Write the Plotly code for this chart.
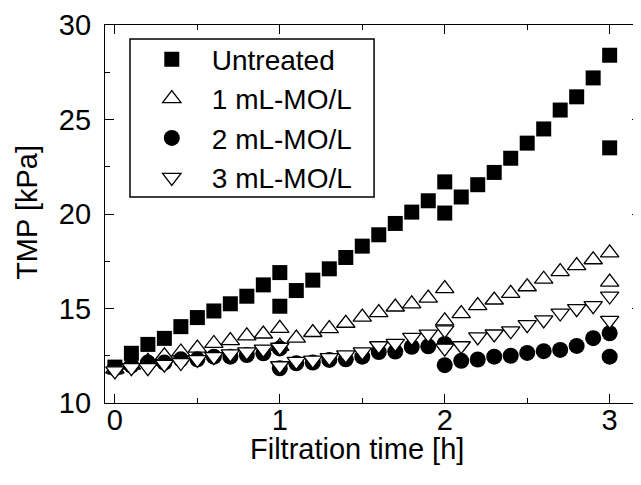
import plotly.graph_objects as go

# filtration time [h]: three 1 h runs, each run restarts at the same time point
time_h = [0.0, 0.1, 0.2, 0.3, 0.4, 0.5, 0.6, 0.7, 0.8, 0.9, 1.0,
          1.0, 1.1, 1.2, 1.3, 1.4, 1.5, 1.6, 1.7, 1.8, 1.9, 2.0,
          2.0, 2.1, 2.2, 2.3, 2.4, 2.5, 2.6, 2.7, 2.8, 2.9, 3.0,
          3.0]

# TMP [kPa]
untreated = [11.9, 12.63, 13.1, 13.42, 14.04, 14.52, 14.87, 15.25, 15.65, 16.25, 16.9,
             15.12, 15.95, 16.5, 17.1, 17.7, 18.3, 18.9, 19.5, 20.1, 20.7, 21.7,
             20.05, 20.9, 21.55, 22.2, 22.95, 23.75, 24.5, 25.5, 26.2, 27.2, 28.4,
             23.5]
mo_1 = [11.8, 12.0, 12.2, 12.5, 12.7, 12.9, 13.15, 13.3, 13.55, 13.65, 13.95,
        13.0, 13.43, 13.73, 13.94, 14.22, 14.54, 14.78, 15.08, 15.25, 15.55, 16.05,
        14.35, 14.73, 15.15, 15.45, 15.8, 16.15, 16.55, 16.95, 17.27, 17.58, 17.94,
        16.4]
mo_2 = [11.84, 11.98, 12.14, 12.14, 12.31, 12.31, 12.45, 12.45, 12.54, 12.63, 12.89,
        11.84, 12.1, 12.14, 12.28, 12.31, 12.45, 12.7, 12.72, 12.97, 13.0, 13.12,
        12.0, 12.23, 12.3, 12.45, 12.5, 12.65, 12.74, 12.81, 13.02, 13.43, 13.69,
        12.45]
mo_3 = [11.7, 11.87, 11.87, 12.05, 12.14, 12.3, 12.45, 12.6, 12.7, 12.85, 12.95,
        11.97, 12.2, 12.27, 12.4, 12.55, 12.7, 13.03, 13.15, 13.47, 13.64, 13.87,
        12.9, 13.03, 13.5, 13.65, 13.82, 14.15, 14.4, 14.76, 14.99, 15.15, 15.66,
        14.37]

names = ["Untreated", "1 mL-MO/L", "2 mL-MO/L", "3 mL-MO/L"]

font = "Liberation Sans, Arial, sans-serif"

fig = go.Figure()
fig.add_trace(go.Scatter(x=time_h, y=untreated, mode="markers", name=names[0],
                         marker=dict(symbol="square", size=15, color="black",
                                     line=dict(width=0))))
fig.add_trace(go.Scatter(x=time_h, y=mo_1, mode="markers", name=names[1],
                         marker=dict(symbol="triangle-up", size=16, color="white",
                                     line=dict(width=1.3, color="black"))))
fig.add_trace(go.Scatter(x=time_h, y=mo_2, mode="markers", name=names[2],
                         marker=dict(symbol="circle", size=16, color="black",
                                     line=dict(width=0))))
fig.add_trace(go.Scatter(x=time_h, y=mo_3, mode="markers", name=names[3],
                         marker=dict(symbol="triangle-down", size=16, color="white",
                                     line=dict(width=1.3, color="black"))))

axis_common = dict(
    showgrid=False, zeroline=False, showline=True, linecolor="black", linewidth=1.3,
    mirror="allticks", ticks="inside", ticklen=9, tickwidth=1, tickcolor="black",
    tickfont=dict(family=font, size=29, color="black"), automargin=False,
)

fig.update_xaxes(range=[-0.06, 3.19], dtick=1, tick0=0, ticklabelstandoff=-9,
                 minor=dict(dtick=0.5, ticks="inside", ticklen=5, tickcolor="black"),
                 **axis_common)
fig.update_yaxes(range=[10, 30], dtick=5, tick0=10, ticklabelstandoff=7,
                 minor=dict(dtick=2.5, ticks="inside", ticklen=5, tickcolor="black"),
                 **axis_common)

# axis titles placed as annotations
fig.add_annotation(text="Filtration time [h]", xref="paper", yref="paper",
                   x=0.47, y=-0.122, xanchor="center", yanchor="middle",
                   showarrow=False, font=dict(family=font, size=29, color="black"))
fig.add_annotation(text="TMP [kPa]", xref="paper", yref="paper",
                   x=-0.146, y=0.505, xanchor="center", yanchor="middle", textangle=-90,
                   showarrow=False, font=dict(family=font, size=29, color="black"))

# legend frame drawn as a shape so its width follows the reference
fig.add_shape(type="rect", xref="paper", yref="paper",
              x0=0.0466, x1=0.502, y0=0.545, y1=0.963,
              line=dict(color="black", width=1.5), fillcolor="rgba(0,0,0,0)",
              layer="above")

# the page body keeps an 8 px margin, so the figure is drawn 8 px smaller
# and its margins are shifted to keep the plot box where the reference has it
fig.update_layout(
    width=633, height=477,
    margin=dict(l=97, r=0, t=17, b=82),
    paper_bgcolor="white", plot_bgcolor="white",
    font=dict(family=font, size=28, color="black"),
    showlegend=True,
    legend=dict(x=0.05, y=0.975, xanchor="left", yanchor="top",
                bgcolor="rgba(0,0,0,0)", borderwidth=0,
                itemwidth=70, font=dict(family=font, size=28, color="black")),
)

fig.write_html("out.html")
